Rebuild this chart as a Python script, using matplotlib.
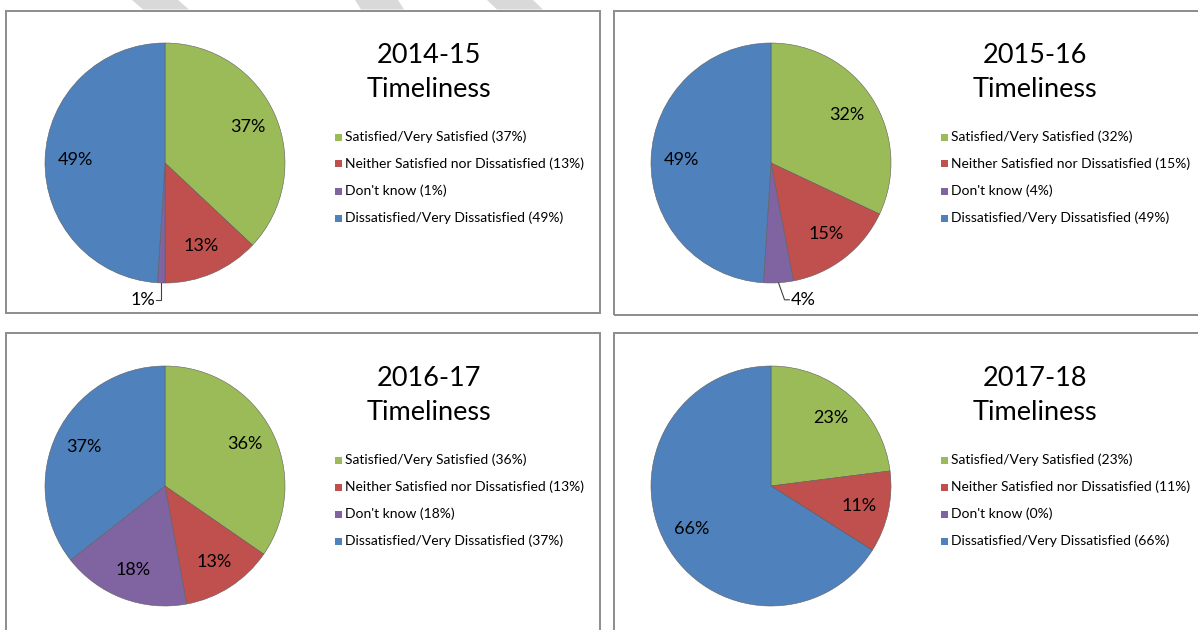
import numpy as np
import matplotlib
matplotlib.use("Agg")
import matplotlib.pyplot as plt
from matplotlib.patches import Rectangle, Polygon

# ---------------- data ----------------
years = ["2014-15", "2015-16", "2016-17", "2017-18"]
categories = ["Satisfied/Very Satisfied", "Neither Satisfied nor Dissatisfied",
              "Don't know", "Dissatisfied/Very Dissatisfied"]
satisfied = [37, 32, 36, 23]
neither = [13, 15, 13, 11]
dont_know = [1, 4, 18, 0]
dissatisfied = [49, 49, 37, 66]
subtitle = "Timeliness"

colors = ["#9BBB59", "#C0504D", "#8064A2", "#4F81BD"]

# ---------------- layout (pixels) ----------------
W, H = 1198, 630
FONT = "Lato"
plt.rcParams["font.family"] = [FONT, "DejaVu Sans"]

fig = plt.figure(figsize=(W / 100, H / 100), dpi=100)
fig.patch.set_facecolor("white")


def fx(x):
    return x / W


def fy(y):
    return 1 - y / H


offsets = [(0, 0), (606, 0), (0, 323), (606, 323)]
boxes = [(6, 11, 600, 313), (614, 11, 1215, 315), (6, 333, 600, 640), (614, 333, 1215, 640)]
leader_side = {0: ("left", 0.0), 1: ("right", 0.05)}

R = 120  # pie radius px
for i, (ox, oy) in enumerate(offsets):
    x0, y0, x1, y1 = boxes[i]
    fig.add_artist(Rectangle((fx(x0), fy(y1)), fx(x1) - fx(x0), fy(y0) - fy(y1),
                             transform=fig.transFigure, fill=False,
                             edgecolor="#8c8c8c", linewidth=1.4))
    cx, cy = 165 + ox, 163 + oy
    ax = fig.add_axes([fx(cx - R), fy(cy + R), 2 * R / W, 2 * R / H])
    vals = [satisfied[i], neither[i], dont_know[i], dissatisfied[i]]
    wedges, _ = ax.pie(vals, colors=colors, startangle=90, counterclock=False,
                       radius=1, wedgeprops=dict(edgecolor="#5f5f5f", linewidth=0.4))
    ax.set_xlim(-1, 1)
    ax.set_ylim(-1, 1)
    ax.set_aspect("equal")
    ax.axis("off")

    total = float(sum(vals))
    cum = 0.0
    for j, v in enumerate(vals):
        frac = v / total
        mid = (cum + frac / 2) * 2 * np.pi
        cum += frac
        if v == 0:
            continue
        sx, sy = np.sin(mid), np.cos(mid)
        lab = f"{v}%"
        if frac < 0.05:
            side, kdx = leader_side.get(i, ("right", 0.05))
            ex, ey = sx, sy
            kx, ky = ex + kdx, -1.14
            hx = kx - 0.04 if side == "left" else kx + 0.04
            ax.plot([ex, kx, hx], [ey, ky, ky], color="#404040", lw=0.8,
                    clip_on=False, solid_joinstyle="miter")
            ax.text(hx + (-0.01 if side == "left" else 0.01), ky, lab,
                    ha="right" if side == "left" else "left", va="center",
                    fontsize=13, color="black", clip_on=False)
        else:
            ax.text(0.75 * sx, 0.75 * sy, lab, ha="center", va="center",
                    fontsize=13, color="black")

    # titles
    tx = 429 + ox
    fig.text(fx(tx), fy(63 + oy), years[i], ha="center", va="baseline",
             fontsize=19.5, color="black")
    fig.text(fx(tx), fy(97 + oy), subtitle, ha="center", va="baseline",
             fontsize=19.5, color="black")

    # legend (manual)
    for k, (c, v) in enumerate(zip(categories, vals)):
        ry = 137 + 27 * k + oy
        fig.add_artist(Rectangle((fx(335 + ox), fy(ry + 3.5)), 7 / W, 7 / H,
                                 transform=fig.transFigure, facecolor=colors[k],
                                 edgecolor="none"))
        fig.text(fx(345 + ox), fy(ry), f"{c} ({v}%)", ha="left", va="center",
                 fontsize=10, color="black")

# watermark stripes at top
stripes = [(132, 178, 11), (355, 398, 6), (487, 533, 10)]
for a, b, s in stripes:
    fig.add_artist(Polygon([(fx(a), fy(0)), (fx(b), fy(0)), (fx(b + s), fy(9.5)),
                            (fx(a + s), fy(9.5))], closed=True,
                           transform=fig.transFigure, facecolor="#d9d9d9",
                           edgecolor="none"))

fig.savefig("out.png", dpi=100, facecolor="white")
